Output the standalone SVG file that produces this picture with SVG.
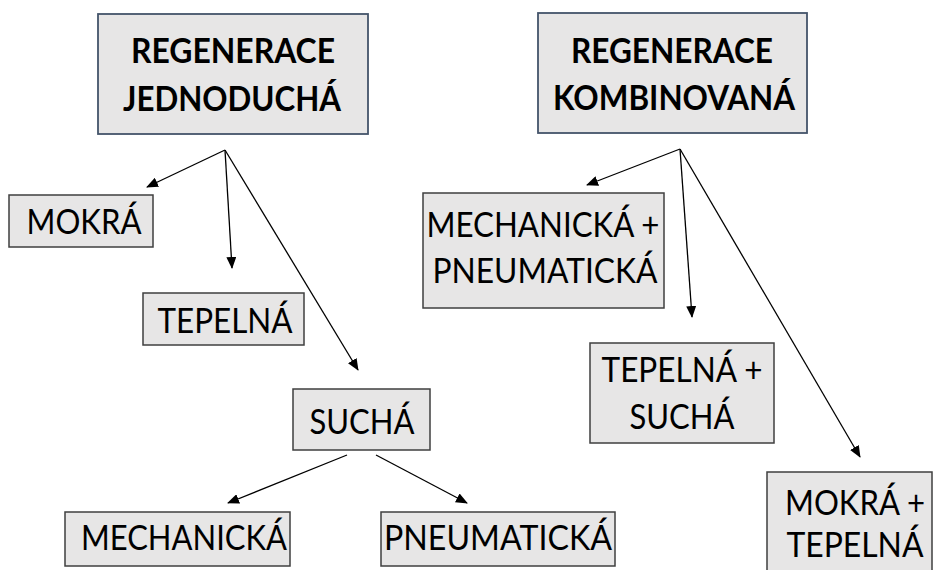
<svg xmlns="http://www.w3.org/2000/svg" width="933" height="570" viewBox="0 0 933 570">
<style>
.box{fill:#e7e6e6;stroke:#3f3f3f;stroke-width:1.5}
.hbox{fill:#e7e6e6;stroke:#44546a;stroke-width:1.8}
text{font-family:Lato,"Liberation Sans",sans-serif;font-size:34.5px;fill:#000;text-anchor:middle}
.b{font-weight:bold}
.c{fill:none;stroke:#000;stroke-width:1.3}
</style>
<defs>
<marker id="ah" markerUnits="userSpaceOnUse" markerWidth="12" markerHeight="10" refX="11" refY="5" orient="auto" viewBox="0 0 12 10">
<path d="M0,0 L12,5 L0,10 z" fill="#000"/>
</marker>
</defs>
<rect width="933" height="570" fill="#fff"/>
<g id="connectors">
<line class="c" x1="225" y1="150" x2="147" y2="187" marker-end="url(#ah)"/>
<line class="c" x1="225" y1="150" x2="232" y2="268" marker-end="url(#ah)"/>
<line class="c" x1="225" y1="150" x2="358" y2="370" marker-end="url(#ah)"/>
<line class="c" x1="347" y1="455" x2="228" y2="503" marker-end="url(#ah)"/>
<line class="c" x1="376" y1="455" x2="467" y2="503" marker-end="url(#ah)"/>
<line class="c" x1="680" y1="149" x2="587" y2="185" marker-end="url(#ah)"/>
<line class="c" x1="680" y1="149" x2="692" y2="317" marker-end="url(#ah)"/>
<line class="c" x1="680" y1="149" x2="860" y2="457" marker-end="url(#ah)"/>
</g>
<g id="n-jednoducha">
<rect class="hbox" x="98" y="14" width="270" height="120"/>
<text class="b" x="233" y="63" textLength="204" lengthAdjust="spacingAndGlyphs">REGENERACE</text>
<text class="b" x="232" y="111" textLength="218" lengthAdjust="spacingAndGlyphs">JEDNODUCHÁ</text>
</g>
<g id="n-kombinovana">
<rect class="hbox" x="538" y="13" width="269" height="120"/>
<text class="b" x="672" y="63" textLength="202" lengthAdjust="spacingAndGlyphs">REGENERACE</text>
<text class="b" x="674" y="110" textLength="242" lengthAdjust="spacingAndGlyphs">KOMBINOVANÁ</text>
</g>
<g id="n-mokra">
<rect class="box" x="9" y="195" width="144" height="52"/>
<text x="84" y="234" textLength="115" lengthAdjust="spacingAndGlyphs">MOKRÁ</text>
</g>
<g id="n-tepelna">
<rect class="box" x="143" y="293" width="161" height="52"/>
<text x="225" y="333" textLength="135" lengthAdjust="spacingAndGlyphs">TEPELNÁ</text>
</g>
<g id="n-sucha">
<rect class="box" x="293" y="389" width="137" height="61"/>
<text x="362" y="434" textLength="105" lengthAdjust="spacingAndGlyphs">SUCHÁ</text>
</g>
<g id="n-mechanicka">
<rect class="box" x="65" y="512" width="225" height="54"/>
<text x="184" y="550" textLength="206" lengthAdjust="spacingAndGlyphs">MECHANICKÁ</text>
</g>
<g id="n-pneumaticka">
<rect class="box" x="381" y="512" width="234" height="54"/>
<text x="498" y="550" textLength="228" lengthAdjust="spacingAndGlyphs">PNEUMATICKÁ</text>
</g>
<g id="n-mech-pneu">
<rect class="box" x="423" y="193" width="241" height="115"/>
<text x="543" y="237" textLength="233" lengthAdjust="spacingAndGlyphs">MECHANICKÁ +</text>
<text x="545" y="283" textLength="225" lengthAdjust="spacingAndGlyphs">PNEUMATICKÁ</text>
</g>
<g id="n-tep-sucha">
<rect class="box" x="590" y="343" width="184" height="100"/>
<text x="682" y="382" textLength="161" lengthAdjust="spacingAndGlyphs">TEPELNÁ +</text>
<text x="682" y="429" textLength="105" lengthAdjust="spacingAndGlyphs">SUCHÁ</text>
</g>
<g id="n-mokra-tep">
<rect class="box" x="767" y="472" width="165" height="110"/>
<text x="855" y="515" textLength="140" lengthAdjust="spacingAndGlyphs">MOKRÁ +</text>
<text x="855" y="557" textLength="137" lengthAdjust="spacingAndGlyphs">TEPELNÁ</text>
</g>
</svg>
